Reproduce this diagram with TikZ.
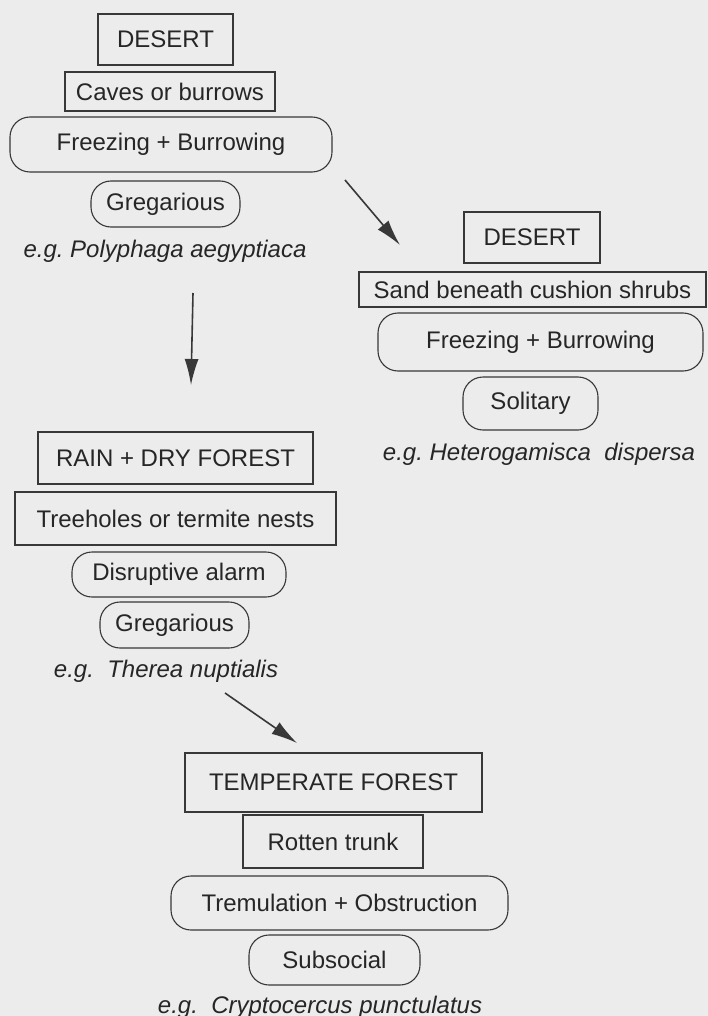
\documentclass[tikz,border=0pt]{standalone}
\usepackage{fontspec}
\setmainfont{Liberation Sans}
\usetikzlibrary{arrows.meta}
\definecolor{Paper}{HTML}{ECECEC}
\definecolor{Ink}{HTML}{383838}
\definecolor{TextInk}{HTML}{262626}
\tikzset{habitat/.style={draw=Ink,line width=1.1pt,text=TextInk,font=\fontsize{24}{28}\selectfont,inner sep=0pt,align=center},behav/.style={habitat,rounded corners=20pt},wh/.style 2 args={minimum width=#1pt,minimum height=#2pt},example/.style={text=TextInk,font=\fontsize{24}{28}\selectfont\itshape,inner sep=0pt,anchor=base},flow/.style={-{Latex[length=26pt,width=14pt]},line width=1.6pt,draw=Ink}}

\begin{document}
\frenchspacing
\begin{tikzpicture}[x=1pt,y=-1pt]
      \useasboundingbox[fill=Paper](0,0)rectangle(708,1016);
      % desert, caves
      \node[habitat,wh={135}{51}](desertA)at(165.5,39.5){DESERT};
      \node[habitat,wh={210}{39}](caves)at(170,91.5){Caves or burrows};
      \node[behav,wh={322}{55}](freezeA)at(171,144.5){Freezing + Burrowing};
      \node[behav,wh={149}{46}](gregA)at(165.5,204){Gregarious};
      \node[example](polyphaga)at(165,258){e.g. Polyphaga aegyptiaca};
      % desert, sand
      \node[habitat,wh={136}{51}](desertB)at(532,237.5){DESERT};
      \node[habitat,wh={347}{35}](sand)at(532.5,289.5){Sand beneath cushion shrubs};
      \node[behav,wh={325}{58}](freezeB)at(540.5,342){Freezing + Burrowing};
      \node[behav,wh={135}{53}](solitary)at(530.5,403.5){Solitary};
      \node[example](heterogamisca)at(539,460){e.g. Heterogamisca\ \ dispersa};
      % rain + dry forest
      \node[habitat,wh={275}{52}](rain)at(175.5,458){RAIN + DRY FOREST};
      \node[habitat,wh={321}{53}](treeholes)at(175.5,518.5){Treeholes or termite nests};
      \node[behav,wh={214}{45}](alarm)at(179,574.5){Disruptive alarm};
      \node[behav,wh={149}{46}](gregB)at(174.5,625){Gregarious};
      \node[example](therea)at(166,677){e.g.\ \ Therea nuptialis};
      % temperate forest
      \node[habitat,wh={297}{59}](temperate)at(333.5,782.5){TEMPERATE FOREST};
      \node[habitat,wh={180}{53}](trunk)at(333,841.5){Rotten trunk};
      \node[behav,wh={337}{54}](tremulation)at(339.5,903){Tremulation + Obstruction};
      \node[behav,wh={171}{50}](subsocial)at(334.5,960){Subsocial};
      \node[example](cryptocercus)at(320,1013){e.g.\ \ Cryptocercus punctulatus};
      % arrows
      \coordinate(fromA)at(345,180);\coordinate(toB)at(400,245);
      \coordinate(downA)at(193,293);\coordinate(downB)at(191,385);
      \coordinate(fromC)at(225,693);\coordinate(toD)at(297,743);
      \draw[flow](fromA)--(toB);\draw[flow](downA)--(downB);\draw[flow](fromC)--(toD);
    \end{tikzpicture}
\end{document}
